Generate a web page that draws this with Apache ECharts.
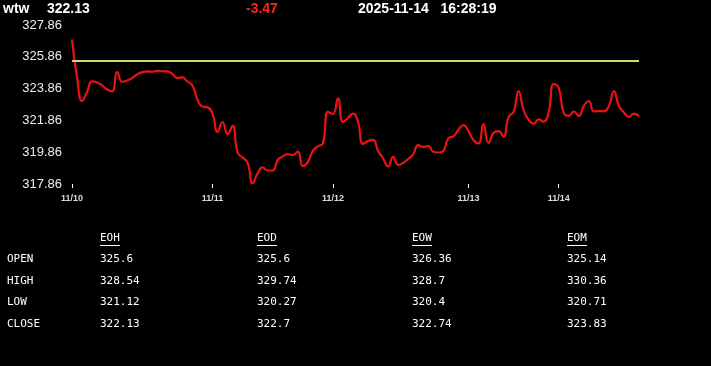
<!DOCTYPE html>
<html>
<head>
<meta charset="utf-8">
<script src="https://cdn.jsdelivr.net/npm/echarts@6/dist/echarts.min.js"></script>
<style>
html,body{margin:0;padding:0;background:#000;}
#c{width:711px;height:366px;}
</style>
</head>
<body>
<div id="c"></div>
<script>
// ---- header ----
const symbol = 'wtw';
const lastPrice = '322.13';
const change = '-3.47';
const dateStr = '2025-11-14';
const timeStr = '16:28:19';

// ---- axis ----
const dayLabels = ['11/10', '11/11', '11/12', '11/13', '11/14'];
const dayStart = [0, 28, 52, 79, 97];
const yTicks = [317.86, 319.86, 321.86, 323.86, 325.86, 327.86];
const refLine = 325.6;

// ---- price series ----
const prices = [
  326.96, 324.59, 323.08, 323.65, 324.31, 324.24, 324.06, 323.80, 323.68, 324.92,
  324.29, 324.37, 324.53, 324.76, 324.90, 324.94, 324.92, 324.98, 324.95, 324.94,
  324.79, 324.53, 324.56, 324.31, 324.06, 323.17, 322.73, 322.68, 322.29, 321.13,
  321.76, 321.00, 321.51, 319.84, 319.53, 319.21, 317.90, 318.53, 318.90, 318.71,
  318.71, 319.37, 319.60, 319.73, 319.68, 319.90, 318.99, 319.24, 319.94, 320.23,
  320.41, 322.39, 322.26, 323.25, 321.76, 322.01, 322.29, 321.76, 320.38, 320.56,
  320.63, 319.94, 319.48, 318.96, 319.56, 319.06, 319.18, 319.43, 319.72, 320.31,
  320.19, 320.25, 319.89, 319.84, 319.94, 320.73, 320.86, 321.26, 321.57, 321.19,
  320.63, 320.41, 321.63, 320.44, 321.07, 321.19, 320.83, 322.07, 322.39, 323.71,
  322.51, 321.89, 321.65, 321.92, 321.78, 322.39, 324.15, 323.90, 322.33, 322.14,
  322.42, 322.14, 322.77, 323.08, 322.42, 322.45, 322.43, 322.77, 323.71, 322.77,
  322.36, 322.07, 322.29, 322.13
];

// ---- table ----
const tableCols = ['EOH', 'EOD', 'EOW', 'EOM'];
const rowLabels = ['OPEN', 'HIGH', 'LOW', 'CLOSE'];
const eoh = ['325.6', '328.54', '321.12', '322.13'];
const eod = ['325.6', '329.74', '320.27', '322.7'];
const eow = ['326.36', '328.7', '320.4', '322.74'];
const eom = ['325.14', '330.36', '320.71', '323.83'];

// build categories
const categories = prices.map(function (p, i) {
  let d = 0;
  for (let k = 0; k < dayStart.length; k++) if (i >= dayStart[k]) d = k;
  return dayLabels[d] + ' ' + (i - dayStart[d]);
});
const isDayStart = function (idx) { return dayStart.indexOf(idx) >= 0; };

const chart = echarts.init(document.getElementById('c'), null, {renderer: 'canvas'});

const headFont = 'bold 14px "Liberation Sans", Arial, sans-serif';
const monoFont = '11px "DejaVu Sans Mono", monospace';
const colX = [100, 257, 412, 567];
const rowY = [259, 281, 302, 324];
const tableVals = [eoh, eod, eow, eom];

const graphics = [
  {type: 'text', left: 3, top: 2, style: {text: symbol, font: headFont, fill: '#fff'}},
  {type: 'text', left: 47, top: 2, style: {text: lastPrice, font: headFont, fill: '#fff'}},
  {type: 'text', left: 246, top: 2, style: {text: change, font: headFont, fill: '#ff2020'}},
  {type: 'text', left: 358, top: 2, style: {text: dateStr + '   ' + timeStr, font: headFont, fill: '#fff'}}
];
tableCols.forEach(function (h, c) {
  graphics.push({type: 'text', x: colX[c], y: 238, style: {text: h, font: monoFont, fill: '#fff', textVerticalAlign: 'middle'}});
  graphics.push({type: 'line', shape: {x1: colX[c], y1: 245.5, x2: colX[c] + 20, y2: 245.5}, style: {stroke: '#fff', lineWidth: 1}});
  rowLabels.forEach(function (r, j) {
    graphics.push({type: 'text', x: colX[c], y: rowY[j], style: {text: tableVals[c][j], font: monoFont, fill: '#fff', textVerticalAlign: 'middle'}});
  });
});
rowLabels.forEach(function (r, j) {
  graphics.push({type: 'text', x: 7, y: rowY[j], style: {text: r, font: monoFont, fill: '#fff', textVerticalAlign: 'middle'}});
});

chart.setOption({
  backgroundColor: '#000',
  animation: false,
  grid: {left: 72, right: 72, top: 25, bottom: 182, containLabel: false},
  xAxis: {
    type: 'category',
    data: categories,
    boundaryGap: false,
    axisLine: {show: false},
    axisTick: {show: true, length: 4, lineStyle: {color: '#fff', width: 1}, interval: function (i) { return isDayStart(i); }},
    axisLabel: {
      color: '#ddd', fontSize: 9, fontWeight: 'bold', fontFamily: '"Liberation Sans", Arial, sans-serif', margin: 10,
      interval: function (i) { return isDayStart(i); },
      formatter: function (v) { return v.split(' ')[0]; }
    },
    splitLine: {show: false}
  },
  yAxis: {
    type: 'value',
    min: yTicks[0],
    max: yTicks[yTicks.length - 1],
    axisLine: {show: false},
    axisTick: {show: false},
    splitLine: {show: false},
    axisLabel: {
      customValues: yTicks,
      color: '#eee', fontSize: 13, fontFamily: '"Liberation Sans", Arial, sans-serif', margin: 10,
      formatter: function (v) { return v.toFixed(2); }
    }
  },
  series: [{
    type: 'line',
    data: prices,
    smooth: 0.5,
    showSymbol: false,
    lineStyle: {color: '#ee1111', width: 2.2},
    markLine: {
      silent: true,
      symbol: 'none',
      label: {show: false},
      lineStyle: {color: '#d6d86a', width: 2, type: 'solid'},
      data: [{yAxis: refLine}]
    }
  }],
  graphic: graphics
});
</script>
</body>
</html>
